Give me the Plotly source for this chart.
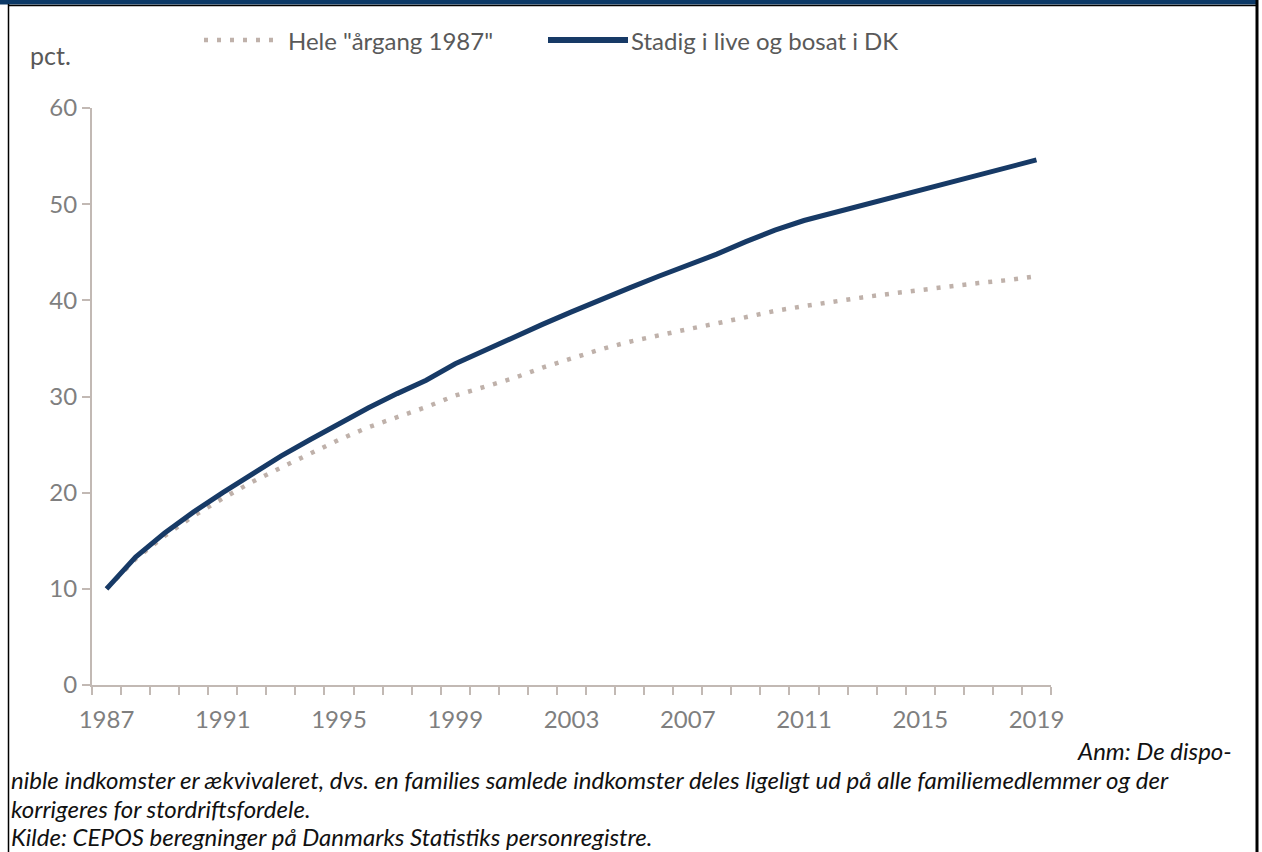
import plotly.graph_objects as go

years = list(range(1987, 2020))
hele_aargang = [10.0, 13.1, 15.5, 17.6, 19.4, 21.1, 22.6, 24.1, 25.5, 26.8, 27.8,
                28.9, 30.1, 31.0, 31.9, 33.0, 34.0, 34.9, 35.7, 36.4, 37.0, 37.6,
                38.3, 38.9, 39.4, 39.9, 40.3, 40.7, 41.1, 41.5, 41.8, 42.1, 42.5]
stadig_i_live = [10.0, 13.3, 15.8, 18.0, 20.0, 21.9, 23.8, 25.5, 27.2, 28.8, 30.3,
                 31.7, 33.4, 34.8, 36.2, 37.5, 38.8, 40.1, 41.3, 42.5, 43.6, 44.8,
                 46.1, 47.3, 48.3, 49.1, 49.9, 50.7, 51.5, 52.3, 53.0, 53.8, 54.6]
x_labels = [1987, 1991, 1995, 1999, 2003, 2007, 2011, 2015, 2019]
y_ticks = [0, 10, 20, 30, 40, 50, 60]

series_names = ['Hele "årgang 1987"', 'Stadig i live og bosat i DK']
colors = ["#bfb1aa", "#173a66"]
dot_dash = "4px,9px"

W, H = 1262, 852
L, R, T, B = 92, 1051, 108, 685


def px_x(px):
    return (px - L) / (R - L)


def px_y(py):
    return (B - py) / (B - T)


fig = go.Figure()
fig.add_trace(go.Scatter(
    x=years, y=hele_aargang, name=series_names[0], mode="lines", showlegend=False,
    line=dict(color=colors[0], width=4.5, dash=dot_dash),
))
fig.add_trace(go.Scatter(
    x=years, y=stadig_i_live, name=series_names[1], mode="lines", showlegend=False,
    line=dict(color=colors[1], width=5),
))

axis_col = "#c2b9b4"
tick_font = dict(family="Lato", size=24, color="#7f7f7f")

fig.update_xaxes(
    range=[years[0] - 0.5, years[-1] + 0.5],
    tickvals=x_labels, ticktext=[str(v) for v in x_labels],
    ticks="outside", ticklen=12, tickcolor="rgba(0,0,0,0)",
    showline=True, linecolor=axis_col, linewidth=2,
    showgrid=False, zeroline=False, tickfont=tick_font,
    minor=dict(tickvals=[y - 0.5 for y in years] + [years[-1] + 0.5],
               ticks="outside", ticklen=8, tickcolor=axis_col, tickwidth=2, showgrid=False),
)
fig.update_yaxes(
    range=[0, 60], tickvals=y_ticks,
    ticks="outside", ticklen=8, tickcolor=axis_col, tickwidth=2,
    showline=True, linecolor=axis_col, linewidth=2,
    showgrid=False, zeroline=False, tickfont=tick_font,
)

shapes = []
# top navy bar and black frame
shapes.append(dict(type="rect", xref="paper", yref="paper", x0=px_x(0), x1=px_x(1257),
                   y0=px_y(4.5), y1=px_y(-2), fillcolor="#0b3866", line_width=0, layer="above"))
shapes.append(dict(type="line", xref="paper", yref="paper", x0=px_x(8), x1=px_x(1258),
                   y0=px_y(5.5), y1=px_y(5.5), line=dict(color="black", width=1.5)))
shapes.append(dict(type="line", xref="paper", yref="paper", x0=px_x(8.5), x1=px_x(8.5),
                   y0=px_y(4), y1=px_y(860), line=dict(color="black", width=1.5)))
shapes.append(dict(type="line", xref="paper", yref="paper", x0=px_x(1257), x1=px_x(1257),
                   y0=px_y(0), y1=px_y(860), line=dict(color="black", width=3)))

# legend symbols
shapes.append(dict(type="line", xref="paper", yref="paper", x0=px_x(204), x1=px_x(276),
                   y0=px_y(40), y1=px_y(40), line=dict(color=colors[0], width=4.5, dash=dot_dash)))
shapes.append(dict(type="line", xref="paper", yref="paper", x0=px_x(548), x1=px_x(628),
                   y0=px_y(40), y1=px_y(40), line=dict(color=colors[1], width=6)))

legend_font = dict(family="Lato", size=24, color="#595959")
note_font = dict(family="Lato", size=24, color="#111111")
annotations = [
    dict(text=series_names[0], xref="paper", yref="paper", x=px_x(286), y=px_y(40),
         xanchor="left", yanchor="middle", showarrow=False, font=legend_font),
    dict(text=series_names[1], xref="paper", yref="paper", x=px_x(629), y=px_y(40),
         xanchor="left", yanchor="middle", showarrow=False, font=legend_font),
    dict(text="pct.", xref="paper", yref="paper", x=px_x(28), y=px_y(55), xanchor="left",
         yanchor="middle", showarrow=False, font=dict(family="Lato", size=25, color="#595959")),
    dict(text="<i>Anm: De dispo-</i>", xref="paper", yref="paper", x=px_x(1234), y=px_y(750),
         xanchor="right", yanchor="middle", showarrow=False, font=note_font),
    dict(text="<i>nible indkomster er ækvivaleret, dvs. en families samlede indkomster deles ligeligt ud på alle familiemedlemmer og der</i>",
         xref="paper", yref="paper", x=px_x(9), y=px_y(779), xanchor="left", yanchor="middle",
         showarrow=False, font=note_font),
    dict(text="<i>korrigeres for stordriftsfordele.</i>", xref="paper", yref="paper", x=px_x(9),
         y=px_y(808), xanchor="left", yanchor="middle", showarrow=False, font=note_font),
    dict(text="<i>Kilde: CEPOS beregninger på Danmarks Statistiks personregistre.</i>", xref="paper",
         yref="paper", x=px_x(9), y=px_y(836.5), xanchor="left", yanchor="middle",
         showarrow=False, font=note_font),
]

fig.update_layout(
    width=W, height=H,
    margin=dict(l=L, r=W - R, t=T, b=H - B, pad=0),
    paper_bgcolor="white", plot_bgcolor="white",
    showlegend=False,
    shapes=shapes, annotations=annotations,
)

fig.write_html("out.html", config={"displayModeBar": False},
               post_script="document.body.style.margin='0';document.body.style.overflow='hidden';")
